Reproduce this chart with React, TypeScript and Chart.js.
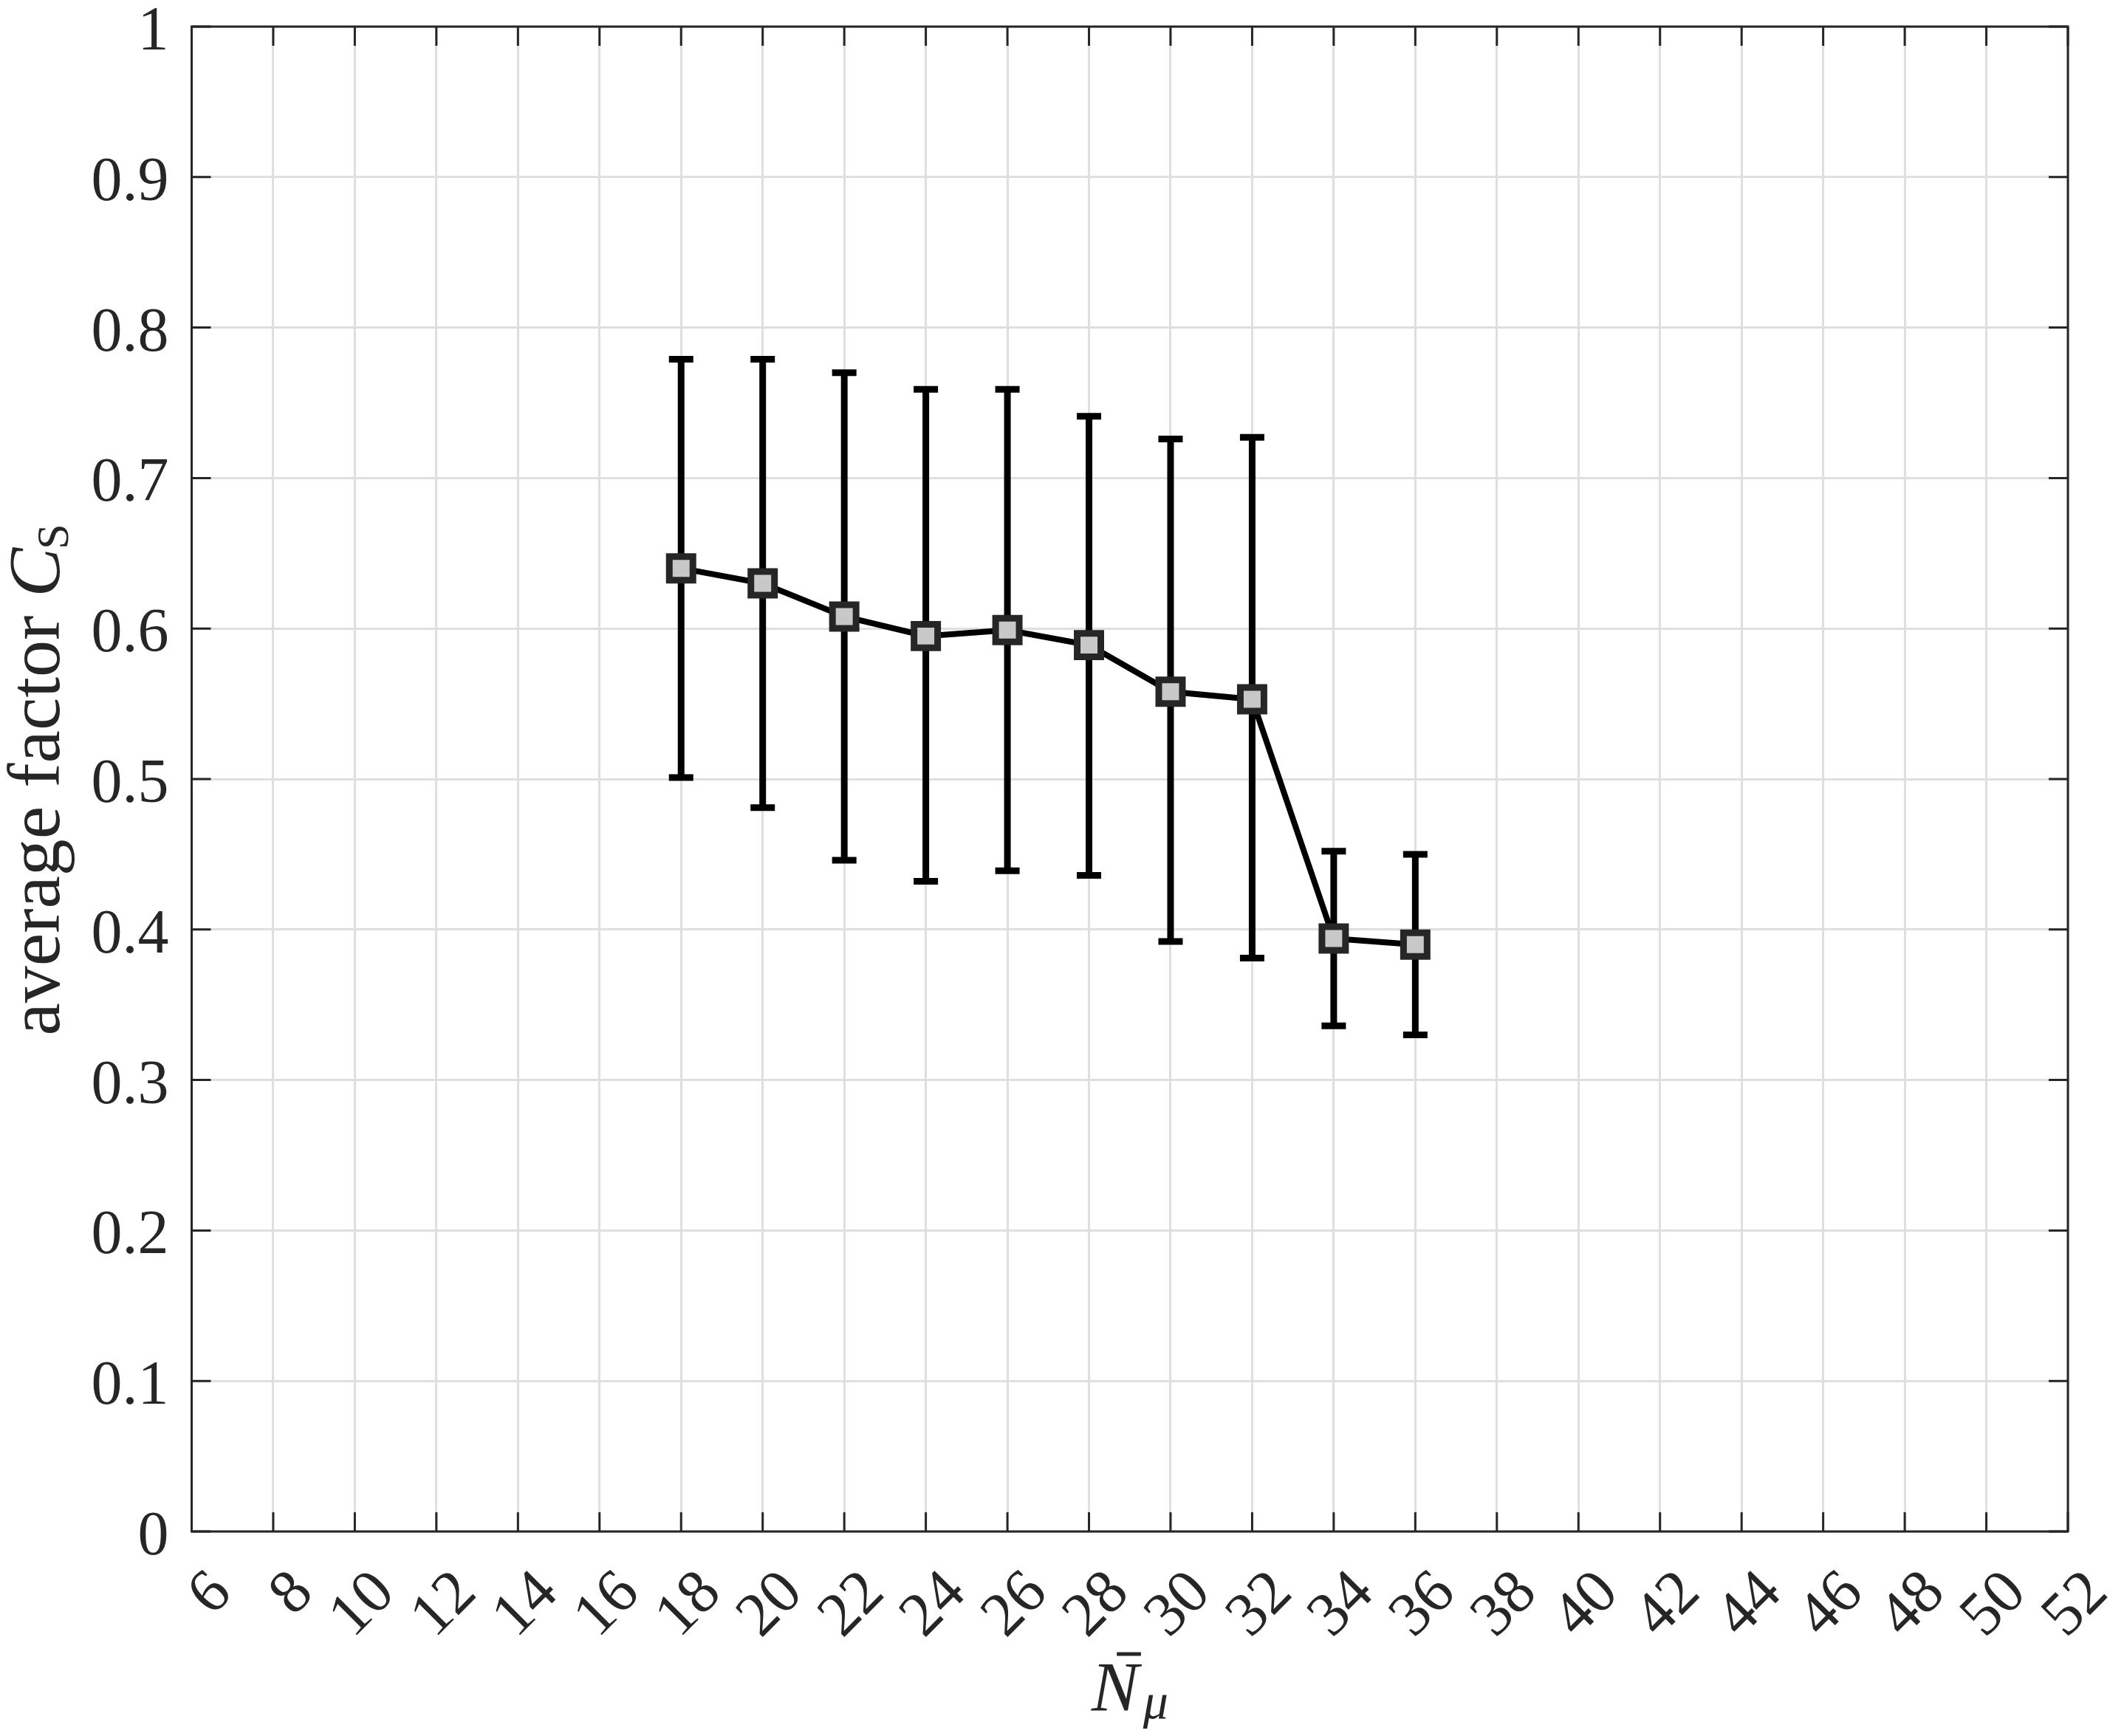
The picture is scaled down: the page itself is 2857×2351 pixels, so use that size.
import React, { useEffect, useRef } from "react";
import { Chart, registerables } from "chart.js";

Chart.register(...registerables);

const xValues = [18, 20, 22, 24, 26, 28, 30, 32, 34, 36];
const meanValues = [0.640, 0.630, 0.608, 0.595, 0.599, 0.589, 0.558, 0.553, 0.394, 0.390];
const upperValues = [0.779, 0.779, 0.770, 0.759, 0.759, 0.741, 0.726, 0.727, 0.452, 0.450];
const lowerValues = [0.501, 0.481, 0.446, 0.432, 0.439, 0.436, 0.392, 0.381, 0.336, 0.330];

const xTickLabels = ["6", "8", "10", "12", "14", "16", "18", "20", "22", "24", "26", "28", "30", "32", "34", "36", "38", "40", "42", "44", "46", "48", "50", "52"];
const yTickLabels = ["0", "0.1", "0.2", "0.3", "0.4", "0.5", "0.6", "0.7", "0.8", "0.9", "1"];

const SERIF = '"Liberation Serif", "Times New Roman", Times, serif';
const TEXT = "#262626";

const errorBarPlugin = {
  id: "errorBars",
  beforeDatasetsDraw(chart: any) {
    const ctx = chart.ctx;
    const xs = chart.scales.x;
    const ys = chart.scales.y;
    ctx.save();
    ctx.strokeStyle = "#000000";
    ctx.lineWidth = 9;
    ctx.lineCap = "butt";
    for (let i = 0; i < xValues.length; i++) {
      const px = xs.getPixelForValue(xValues[i]);
      const pt = ys.getPixelForValue(upperValues[i]);
      const pb = ys.getPixelForValue(lowerValues[i]);
      ctx.beginPath();
      ctx.moveTo(px, pt);
      ctx.lineTo(px, pb);
      ctx.moveTo(px - 16.5, pt);
      ctx.lineTo(px + 16.5, pt);
      ctx.moveTo(px - 16.5, pb);
      ctx.lineTo(px + 16.5, pb);
      ctx.stroke();
    }
    ctx.restore();
  },
};

const framePlugin = {
  id: "frame",
  afterDraw(chart: any) {
    const ctx = chart.ctx;
    const xs = chart.scales.x;
    const ys = chart.scales.y;
    const a = chart.chartArea;
    const tickLen = 26;
    ctx.save();
    ctx.strokeStyle = TEXT;
    ctx.lineWidth = 3;
    ctx.lineCap = "butt";
    ctx.beginPath();
    xTickLabels.forEach((lab) => {
      const px = xs.getPixelForValue(Number(lab));
      ctx.moveTo(px, a.bottom);
      ctx.lineTo(px, a.bottom - tickLen);
      ctx.moveTo(px, a.top);
      ctx.lineTo(px, a.top + tickLen);
    });
    yTickLabels.forEach((lab) => {
      const py = ys.getPixelForValue(Number(lab));
      ctx.moveTo(a.left, py);
      ctx.lineTo(a.left + tickLen, py);
      ctx.moveTo(a.right, py);
      ctx.lineTo(a.right - tickLen, py);
    });
    ctx.stroke();
    ctx.strokeRect(a.left, a.top, a.right - a.left, a.bottom - a.top);

    ctx.fillStyle = TEXT;
    ctx.font = `84px ${SERIF}`;
    ctx.textAlign = "right";
    ctx.textBaseline = "alphabetic";
    yTickLabels.forEach((lab) => {
      const py = ys.getPixelForValue(Number(lab));
      ctx.fillText(lab, a.left - 31, py + 31);
    });
    xTickLabels.forEach((lab) => {
      const px = xs.getPixelForValue(Number(lab));
      ctx.save();
      ctx.translate(px + 57, a.bottom + 86);
      ctx.rotate(-Math.PI / 4);
      ctx.textAlign = "right";
      ctx.textBaseline = "alphabetic";
      ctx.fillText(lab, 0, 0);
      ctx.restore();
    });

    const cx = (a.left + a.right) / 2;
    const base = a.bottom + 243;
    ctx.textAlign = "left";
    ctx.font = `italic 96px ${SERIF}`;
    const wN = ctx.measureText("N").width;
    ctx.font = `italic 68px ${SERIF}`;
    const wMu = ctx.measureText("μ").width;
    const total = wN + 6 + wMu;
    const sx = cx - total / 2;
    ctx.font = `italic 96px ${SERIF}`;
    ctx.fillText("N", sx, base);
    ctx.font = `italic 68px ${SERIF}`;
    ctx.fillText("μ", sx + wN + 6, base + 10);
    ctx.lineWidth = 5;
    ctx.beginPath();
    ctx.moveTo(sx + 0.36 * 96, base - 77);
    ctx.lineTo(sx + 0.70 * 96, base - 77);
    ctx.stroke();

    ctx.save();
    ctx.translate(80, 1055);
    ctx.rotate(-Math.PI / 2);
    ctx.textAlign = "left";
    ctx.font = `100px ${SERIF}`;
    const t1 = "average factor ";
    const w1 = ctx.measureText(t1).width;
    ctx.font = `italic 100px ${SERIF}`;
    const wC = ctx.measureText("C").width;
    ctx.font = `62px ${SERIF}`;
    const wS = ctx.measureText("S").width;
    const tw = w1 + wC + wS;
    let x0 = -tw / 2;
    ctx.font = `100px ${SERIF}`;
    ctx.fillText(t1, x0, 0);
    x0 += w1;
    ctx.font = `italic 100px ${SERIF}`;
    ctx.fillText("C", x0, 0);
    x0 += wC;
    ctx.font = `62px ${SERIF}`;
    ctx.fillText("S", x0 - 2, 12);
    ctx.restore();

    ctx.restore();
  },
};

export default function App() {
  const ref = useRef<HTMLCanvasElement | null>(null);
  useEffect(() => {
    let chart: any = null;
    let cancelled = false;
    const build = () => {
      if (cancelled || !ref.current) return;
      chart = new Chart(ref.current, {
        type: "line",
        data: {
          datasets: [
            {
              data: xValues.map((x, i) => ({ x, y: meanValues[i] })),
              borderColor: "#000000",
              borderWidth: 8,
              pointStyle: "rect",
              pointRadius: 22.6,
              pointHoverRadius: 22.6,
              pointBackgroundColor: "#c8c8c8",
              pointBorderColor: "#262626",
              pointBorderWidth: 9,
              tension: 0,
              fill: false,
              clip: false as any,
            },
          ],
        },
        options: {
          animation: false,
          responsive: false,
          devicePixelRatio: 1,
          events: [],
          layout: { padding: { left: 259.5, top: 36, right: 57, bottom: 277 } },
          plugins: { legend: { display: false }, tooltip: { enabled: false }, title: { display: false } },
          scales: {
            x: {
              type: "linear",
              min: 6,
              max: 52,
              ticks: { stepSize: 2, display: false },
              grid: { color: "#dfdfdf", lineWidth: 3, drawTicks: false },
              border: { display: false },
              afterFit: (s: any) => {
                s.height = 0;
              },
            },
            y: {
              type: "linear",
              min: 0,
              max: 1,
              ticks: { stepSize: 0.1, display: false },
              grid: { color: "#dfdfdf", lineWidth: 3, drawTicks: false },
              border: { display: false },
              afterFit: (s: any) => {
                s.width = 0;
              },
            },
          },
        },
        plugins: [errorBarPlugin, framePlugin],
      });
    };
    const fonts: any = (document as any).fonts;
    if (fonts && fonts.load) {
      Promise.all([
        fonts.load('84px "Liberation Serif"'),
        fonts.load('italic 96px "Liberation Serif"'),
      ])
        .catch(() => null)
        .then(() => build());
    } else {
      build();
    }
    return () => {
      cancelled = true;
      if (chart) chart.destroy();
    };
  }, []);
  return (
    <div style={{ position: "fixed", left: 0, top: 0, width: 2857, height: 2351, background: "#ffffff" }}>
      <span style={{ position: "absolute", left: -9999, fontFamily: SERIF }}>
        0.9 <i>N μ</i>
      </span>
      <canvas ref={ref} width={2857} height={2351} style={{ display: "block" }} />
    </div>
  );
}
